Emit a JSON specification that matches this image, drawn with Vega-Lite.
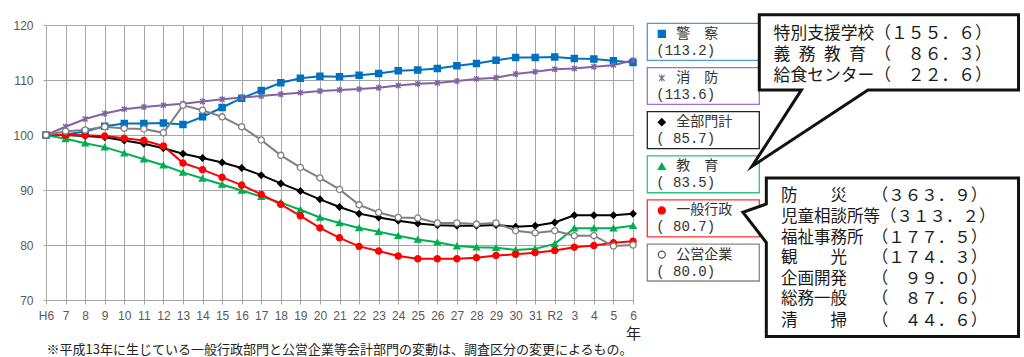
{
"$schema": "https://vega.github.io/schema/vega-lite/v6.json",
"background": "white",
"padding": {"left": 12, "top": -4, "right": 0, "bottom": 0},
"bounds": "flush",
"spacing": 14.3,
"config": {"view": {"stroke": null}, "font": "Noto Sans CJK JP"},
"datasets": {
"main": [
{"year":"H6","series":"警察","value":100},{"year":"7","series":"警察","value":100.1},{"year":"8","series":"警察","value":100.65},{"year":"9","series":"警察","value":101.6},{"year":"10","series":"警察","value":102.1},{"year":"11","series":"警察","value":102.1},{"year":"12","series":"警察","value":102.2},{"year":"13","series":"警察","value":101.9},{"year":"14","series":"警察","value":103.3},{"year":"15","series":"警察","value":105.0},{"year":"16","series":"警察","value":106.7},{"year":"17","series":"警察","value":108.1},{"year":"18","series":"警察","value":109.5},{"year":"19","series":"警察","value":110.3},{"year":"20","series":"警察","value":110.7},{"year":"21","series":"警察","value":110.6},{"year":"22","series":"警察","value":110.85},{"year":"23","series":"警察","value":111.2},{"year":"24","series":"警察","value":111.7},{"year":"25","series":"警察","value":111.8},{"year":"26","series":"警察","value":112.1},{"year":"27","series":"警察","value":112.6},{"year":"28","series":"警察","value":113.0},{"year":"29","series":"警察","value":113.6},{"year":"30","series":"警察","value":114.1},{"year":"31","series":"警察","value":114.1},{"year":"R2","series":"警察","value":114.2},{"year":"3","series":"警察","value":113.9},{"year":"4","series":"警察","value":113.8},{"year":"5","series":"警察","value":113.5},{"year":"6","series":"警察","value":113.2},
{"year":"H6","series":"消防","value":100},{"year":"7","series":"消防","value":101.5},{"year":"8","series":"消防","value":102.9},{"year":"9","series":"消防","value":103.9},{"year":"10","series":"消防","value":104.7},{"year":"11","series":"消防","value":105.1},{"year":"12","series":"消防","value":105.4},{"year":"13","series":"消防","value":105.7},{"year":"14","series":"消防","value":106.1},{"year":"15","series":"消防","value":106.5},{"year":"16","series":"消防","value":106.8},{"year":"17","series":"消防","value":107.1},{"year":"18","series":"消防","value":107.4},{"year":"19","series":"消防","value":107.7},{"year":"20","series":"消防","value":108.0},{"year":"21","series":"消防","value":108.2},{"year":"22","series":"消防","value":108.35},{"year":"23","series":"消防","value":108.6},{"year":"24","series":"消防","value":109.0},{"year":"25","series":"消防","value":109.3},{"year":"26","series":"消防","value":109.45},{"year":"27","series":"消防","value":109.8},{"year":"28","series":"消防","value":110.2},{"year":"29","series":"消防","value":110.4},{"year":"30","series":"消防","value":111.1},{"year":"31","series":"消防","value":111.5},{"year":"R2","series":"消防","value":111.95},{"year":"3","series":"消防","value":112.1},{"year":"4","series":"消防","value":112.4},{"year":"5","series":"消防","value":112.7},{"year":"6","series":"消防","value":113.6},
{"year":"H6","series":"全部門計","value":100},{"year":"7","series":"全部門計","value":100.0},{"year":"8","series":"全部門計","value":99.8},{"year":"9","series":"全部門計","value":99.6},{"year":"10","series":"全部門計","value":99.0},{"year":"11","series":"全部門計","value":98.4},{"year":"12","series":"全部門計","value":97.6},{"year":"13","series":"全部門計","value":96.6},{"year":"14","series":"全部門計","value":95.8},{"year":"15","series":"全部門計","value":95.0},{"year":"16","series":"全部門計","value":94.0},{"year":"17","series":"全部門計","value":92.7},{"year":"18","series":"全部門計","value":91.2},{"year":"19","series":"全部門計","value":89.8},{"year":"20","series":"全部門計","value":88.3},{"year":"21","series":"全部門計","value":86.9},{"year":"22","series":"全部門計","value":85.7},{"year":"23","series":"全部門計","value":85.0},{"year":"24","series":"全部門計","value":84.4},{"year":"25","series":"全部門計","value":83.9},{"year":"26","series":"全部門計","value":83.6},{"year":"27","series":"全部門計","value":83.5},{"year":"28","series":"全部門計","value":83.5},{"year":"29","series":"全部門計","value":83.65},{"year":"30","series":"全部門計","value":83.3},{"year":"31","series":"全部門計","value":83.5},{"year":"R2","series":"全部門計","value":84.1},{"year":"3","series":"全部門計","value":85.4},{"year":"4","series":"全部門計","value":85.4},{"year":"5","series":"全部門計","value":85.4},{"year":"6","series":"全部門計","value":85.7},
{"year":"H6","series":"教育","value":100},{"year":"7","series":"教育","value":99.3},{"year":"8","series":"教育","value":98.5},{"year":"9","series":"教育","value":97.8},{"year":"10","series":"教育","value":96.7},{"year":"11","series":"教育","value":95.6},{"year":"12","series":"教育","value":94.5},{"year":"13","series":"教育","value":93.2},{"year":"14","series":"教育","value":92.1},{"year":"15","series":"教育","value":91.0},{"year":"16","series":"教育","value":89.9},{"year":"17","series":"教育","value":88.8},{"year":"18","series":"教育","value":87.7},{"year":"19","series":"教育","value":86.4},{"year":"20","series":"教育","value":85.0},{"year":"21","series":"教育","value":84.0},{"year":"22","series":"教育","value":83.1},{"year":"23","series":"教育","value":82.4},{"year":"24","series":"教育","value":81.7},{"year":"25","series":"教育","value":81.0},{"year":"26","series":"教育","value":80.5},{"year":"27","series":"教育","value":79.8},{"year":"28","series":"教育","value":79.6},{"year":"29","series":"教育","value":79.5},{"year":"30","series":"教育","value":79.1},{"year":"31","series":"教育","value":79.3},{"year":"R2","series":"教育","value":80.2},{"year":"3","series":"教育","value":83.05},{"year":"4","series":"教育","value":83.05},{"year":"5","series":"教育","value":83.05},{"year":"6","series":"教育","value":83.5},
{"year":"H6","series":"一般行政","value":100},{"year":"7","series":"一般行政","value":100},{"year":"8","series":"一般行政","value":99.95},{"year":"9","series":"一般行政","value":99.8},{"year":"10","series":"一般行政","value":99.4},{"year":"11","series":"一般行政","value":99.0},{"year":"12","series":"一般行政","value":98.0},{"year":"13","series":"一般行政","value":94.9},{"year":"14","series":"一般行政","value":93.7},{"year":"15","series":"一般行政","value":92.3},{"year":"16","series":"一般行政","value":90.9},{"year":"17","series":"一般行政","value":89.2},{"year":"18","series":"一般行政","value":87.4},{"year":"19","series":"一般行政","value":85.3},{"year":"20","series":"一般行政","value":83.1},{"year":"21","series":"一般行政","value":81.3},{"year":"22","series":"一般行政","value":79.75},{"year":"23","series":"一般行政","value":78.9},{"year":"24","series":"一般行政","value":78.0},{"year":"25","series":"一般行政","value":77.5},{"year":"26","series":"一般行政","value":77.5},{"year":"27","series":"一般行政","value":77.5},{"year":"28","series":"一般行政","value":77.7},{"year":"29","series":"一般行政","value":78.1},{"year":"30","series":"一般行政","value":78.3},{"year":"31","series":"一般行政","value":78.6},{"year":"R2","series":"一般行政","value":79.0},{"year":"3","series":"一般行政","value":79.6},{"year":"4","series":"一般行政","value":79.9},{"year":"5","series":"一般行政","value":80.4},{"year":"6","series":"一般行政","value":80.7},
{"year":"H6","series":"公営企業","value":100},{"year":"7","series":"公営企業","value":100.7},{"year":"8","series":"公営企業","value":100.9},{"year":"9","series":"公営企業","value":101.5},{"year":"10","series":"公営企業","value":101.2},{"year":"11","series":"公営企業","value":101.1},{"year":"12","series":"公営企業","value":100.4},{"year":"13","series":"公営企業","value":105.4},{"year":"14","series":"公営企業","value":104.5},{"year":"15","series":"公営企業","value":103.3},{"year":"16","series":"公営企業","value":101.5},{"year":"17","series":"公営企業","value":99.1},{"year":"18","series":"公営企業","value":96.3},{"year":"19","series":"公営企業","value":94.1},{"year":"20","series":"公営企業","value":92.2},{"year":"21","series":"公営企業","value":90.1},{"year":"22","series":"公営企業","value":87.3},{"year":"23","series":"公営企業","value":85.9},{"year":"24","series":"公営企業","value":85.0},{"year":"25","series":"公営企業","value":84.9},{"year":"26","series":"公営企業","value":84.0},{"year":"27","series":"公営企業","value":84.0},{"year":"28","series":"公営企業","value":83.8},{"year":"29","series":"公営企業","value":84.0},{"year":"30","series":"公営企業","value":82.6},{"year":"31","series":"公営企業","value":82.2},{"year":"R2","series":"公営企業","value":82.6},{"year":"3","series":"公営企業","value":81.7},{"year":"4","series":"公営企業","value":81.7},{"year":"5","series":"公営企業","value":79.8},{"year":"6","series":"公営企業","value":80.0}
],
"legend": [
{"series":"警察","name":"警　察","label":"(113.2)"},
{"series":"消防","name":"消　防","label":"(113.6)"},
{"series":"全部門計","name":"全部門計","label":"( 85.7)"},
{"series":"教育","name":"教　育","label":"( 83.5)"},
{"series":"一般行政","name":"一般行政","label":"( 80.7)"},
{"series":"公営企業","name":"公営企業","label":"( 80.0)"}
],
"callout_shape": [
{"callout":1,"order":0,"x":50,"y":-3.75},{"callout":1,"order":1,"x":99.7,"y":-3.75},{"callout":1,"order":2,"x":99.7,"y":23.6},{"callout":1,"order":3,"x":41.8,"y":23.6},{"callout":1,"order":4,"x":-2.8,"y":51.4},{"callout":1,"order":5,"x":16.2,"y":23.6},{"callout":1,"order":6,"x":0,"y":23.6},{"callout":1,"order":7,"x":0,"y":-3.75},{"callout":1,"order":8,"x":50,"y":-3.75},
{"callout":2,"order":0,"x":50,"y":55.6},{"callout":2,"order":1,"x":99.7,"y":55.6},{"callout":2,"order":2,"x":99.7,"y":113.3},{"callout":2,"order":3,"x":2.7,"y":113.3},{"callout":2,"order":4,"x":2.7,"y":79.1},{"callout":2,"order":5,"x":-6.3,"y":68.1},{"callout":2,"order":6,"x":2.7,"y":65.1},{"callout":2,"order":7,"x":2.7,"y":55.6},{"callout":2,"order":8,"x":50,"y":55.6}
],
"callout_text": [
{"callout":1,"x":5.5,"y":3.16,"text":"特別支援学校（１５５．６）"},
{"callout":1,"x":5.5,"y":10.8,"text":"義\u2002務\u2002教\u2002育\u2002（　８６．３）"},
{"callout":1,"x":5.5,"y":18.4,"text":"給食センター（　２２．６）"},
{"callout":2,"x":8.3,"y":62.1,"text":"防　　災　　（３６３．９）"},
{"callout":2,"x":8.3,"y":69.7,"text":"児童相談所等（３１３．２）"},
{"callout":2,"x":8.3,"y":77.3,"text":"福祉事務所　（１７７．５）"},
{"callout":2,"x":8.3,"y":84.6,"text":"観　　光　　（１７４．３）"},
{"callout":2,"x":8.3,"y":92.3,"text":"企画開発　　（　９９．０）"},
{"callout":2,"x":8.3,"y":99.8,"text":"総務一般　　（　８７．６）"},
{"callout":2,"x":8.3,"y":107.5,"text":"清　　掃　　（　４４．６）"}
]
},
"hconcat": [
{
"width": 587, "height": 275,
"data": {"name": "main"},
"title": {"text": "※平成13年に生じている一般行政部門と公営企業等会計部門の変動は、調査区分の変更によるもの。", "orient": "bottom", "anchor": "middle", "fontSize": 13, "fontWeight": "normal", "color": "#222222", "offset": 3, "font": "Noto Sans CJK JP"},
"encoding": {
"x": {"field": "year", "type": "ordinal", "sort": ["H6","7","8","9","10","11","12","13","14","15","16","17","18","19","20","21","22","23","24","25","26","27","28","29","30","31","R2","3","4","5","6"], "scale": {"type": "point", "padding": 0},
 "axis": {"labelAngle": 0, "grid": true, "gridColor": "#a6a6a6", "gridWidth": 1, "domainColor": "#a6a6a6", "tickColor": "#a6a6a6", "tickSize": 4, "labelColor": "#595959", "labelFontSize": 12, "labelFont": "Liberation Sans", "labelPadding": 6, "title": "年", "titleFont": "Noto Sans CJK JP", "titleFontSize": 15, "titleFontWeight": "normal", "titleColor": "#222222", "titleAnchor": "end", "titleAlign": "center", "titlePadding": 5}},
"y": {"field": "value", "type": "quantitative", "scale": {"domain": [70, 120], "nice": false, "zero": false},
 "axis": {"values": [70, 80, 90, 100, 110, 120], "grid": true, "gridColor": "#a6a6a6", "gridWidth": 1, "domainColor": "#a6a6a6", "tickColor": "#a6a6a6", "tickSize": 3, "labelColor": "#595959", "labelFontSize": 12, "labelFont": "Liberation Sans", "labelPadding": 10, "title": null}}
},
"layer": [
{"mark": {"type": "line", "strokeWidth": 2}, "encoding": {"stroke": {"field": "series", "type": "nominal", "scale": {"domain": ["公営企業","消防","警察","教育","一般行政","全部門計"], "range": ["#7f7f7f","#8064a2","#0070c0","#00b050","#ff0000","#000000"]}, "legend": null}}},
{"mark": {"type": "point", "filled": true, "size": 38, "strokeWidth": 1.3, "opacity": 1}, "encoding": {
 "stroke": {"field": "series", "type": "nominal", "legend": null},
 "fill": {"field": "series", "type": "nominal", "scale": {"domain": ["公営企業","消防","警察","教育","一般行政","全部門計"], "range": ["#ffffff","#8064a2","#0070c0","#00b050","#ff0000","#000000"]}, "legend": null},
 "shape": {"field": "series", "type": "nominal", "scale": {"domain": ["公営企業","消防","警察","教育","一般行政","全部門計"], "range": ["circle","M0,-1L0,1M-0.8,-0.8L0.8,0.8M-0.8,0.8L0.8,-0.8","square","triangle-up","circle","diamond"]}, "legend": null}
}}
]
},
{
"bounds": "flush",
"spacing": 0,
"hconcat": [
{
"width": 112, "height": 256,
"data": {"name": "legend"},
"resolve": {"scale": {"stroke": "independent"}},
"layer": [
{"mark": {"type": "bar", "fill": "white", "strokeWidth": 1.3}, "encoding": {
 "y": {"field": "series", "type": "nominal", "sort": null, "scale": {"type": "band", "paddingInner": 0.163, "paddingOuter": 0, "range": [-1.6, 256]}, "axis": null},
 "stroke": {"field": "series", "type": "nominal", "scale": {"domain": ["警察","消防","全部門計","教育","一般行政","公営企業"], "range": ["#4c9ad8","#a070c8","#222222","#30c08a","#ff3030","#888888"]}, "legend": null}}},
{"mark": {"type": "point", "filled": true, "size": 50, "strokeWidth": 1.2, "opacity": 1, "xOffset": -41.5}, "encoding": {
 "y": {"field": "series", "type": "nominal", "sort": null, "bandPosition": 0.285, "axis": null},
 "fill": {"field": "series", "type": "nominal", "scale": {"domain": ["警察","消防","全部門計","教育","一般行政","公営企業"], "range": ["#0070c0","#8064a2","#000000","#00b050","#ff0000","#ffffff"]}, "legend": null},
 "stroke": {"field": "series", "type": "nominal", "scale": {"domain": ["警察","消防","全部門計","教育","一般行政","公営企業"], "range": ["#0070c0","#8064a2","#000000","#00b050","#ff0000","#555555"]}, "legend": null},
 "shape": {"field": "series", "type": "nominal", "scale": {"domain": ["警察","消防","全部門計","教育","一般行政","公営企業"], "range": ["square","M0,-1L0,1M-0.8,-0.8L0.8,0.8M-0.8,0.8L0.8,-0.8","diamond","triangle-up","circle","circle"]}, "legend": null}}},
{"mark": {"type": "text", "align": "left", "baseline": "middle", "dx": -27, "fontSize": 14, "font": "Noto Sans CJK JP", "color": "#333333"}, "encoding": {
 "y": {"field": "series", "type": "nominal", "sort": null, "bandPosition": 0.285, "axis": null},
 "text": {"field": "name"}}},
{"mark": {"type": "text", "align": "left", "baseline": "middle", "dx": -47, "fontSize": 14, "font": "Liberation Mono", "color": "#333333"}, "encoding": {
 "y": {"field": "series", "type": "nominal", "sort": null, "bandPosition": 0.745, "axis": null},
 "text": {"field": "label"}}}
]
},
{
"width": 260, "height": 275,
"layer": [
{"data": {"name": "callout_shape"}, "mark": {"type": "line", "stroke": "#111111", "strokeWidth": 3, "fill": "white", "strokeJoin": "miter", "strokeMiterLimit": 12}, "encoding": {
 "x": {"field": "x", "type": "quantitative", "scale": {"domain": [0, 100], "nice": false, "zero": false}, "axis": null},
 "y": {"field": "y", "type": "quantitative", "scale": {"domain": [0, 100], "nice": false, "zero": false, "reverse": true}, "axis": null},
 "order": {"field": "order", "type": "quantitative"},
 "detail": {"field": "callout", "type": "nominal"}}},
{"data": {"name": "callout_text"}, "transform": [{"filter": "datum.callout == 1"}], "mark": {"type": "text", "align": "left", "baseline": "middle", "fontSize": 16.8, "font": "Noto Sans CJK JP", "color": "#1a1a1a"}, "encoding": {
 "x": {"field": "x", "type": "quantitative", "axis": null},
 "y": {"field": "y", "type": "quantitative", "axis": null},
 "text": {"field": "text"}}},
{"data": {"name": "callout_text"}, "transform": [{"filter": "datum.callout == 2"}], "mark": {"type": "text", "align": "left", "baseline": "middle", "fontSize": 16.5, "font": "Noto Sans CJK JP", "color": "#1a1a1a"}, "encoding": {
 "x": {"field": "x", "type": "quantitative", "axis": null},
 "y": {"field": "y", "type": "quantitative", "axis": null},
 "text": {"field": "text"}}}
]
}
]
}
]
}
